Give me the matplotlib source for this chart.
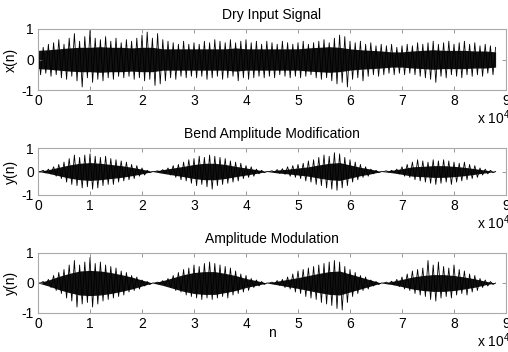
import numpy as np
import matplotlib
matplotlib.use("Agg")
import matplotlib.pyplot as plt

plt.rcParams['font.family'] = ['Liberation Sans', 'DejaVu Sans']
plt.rcParams['mathtext.fontset'] = 'custom'
plt.rcParams['mathtext.rm'] = 'Liberation Sans'

# sample positions (peaks read every 1000 samples, dense core every 2000)
n_peak = np.arange(0, 89000, 1000)
n_core = np.arange(0, 90000, 2000)

# --- Dry Input Signal ---
dry_upper = [0.45, 0.40, 0.50, 0.55, 0.65, 0.50, 0.70, 0.85, 0.60, 0.75,
             0.95, 0.70, 0.65, 0.75, 0.60, 0.70, 0.55, 0.65, 0.60, 0.70,
             0.80, 0.90, 0.70, 0.85, 0.65, 0.60, 0.55, 0.50, 0.60, 0.50,
             0.55, 0.50, 0.60, 0.55, 0.65, 0.60, 0.55, 0.65, 0.55, 0.60,
             0.65, 0.55, 0.60, 0.50, 0.60, 0.55, 0.50, 0.60, 0.55, 0.50,
             0.55, 0.60, 0.50, 0.55, 0.60, 0.65, 0.55, 0.70, 0.80, 0.75,
             0.60, 0.55, 0.60, 0.50, 0.55, 0.45, 0.50, 0.45, 0.50, 0.40,
             0.45, 0.50, 0.45, 0.55, 0.50, 0.55, 0.60, 0.50, 0.55, 0.60,
             0.50, 0.55, 0.60, 0.50, 0.55, 0.45, 0.50, 0.45, 0.40]
dry_lower = [-0.50, -0.45, -0.55, -0.50, -0.60, -0.65, -0.55, -0.70, -0.90, -0.60,
             -0.75, -0.65, -0.70, -0.60, -0.65, -0.55, -0.60, -0.55, -0.65, -0.60,
             -0.70, -0.65, -0.85, -0.80, -0.70, -0.60, -0.65, -0.55, -0.60, -0.55,
             -0.60, -0.55, -0.65, -0.60, -0.55, -0.65, -0.60, -0.55, -0.70, -0.60,
             -0.65, -0.60, -0.55, -0.60, -0.55, -0.60, -0.50, -0.55, -0.60, -0.55,
             -0.60, -0.55, -0.50, -0.60, -0.65, -0.60, -0.70, -0.80, -0.75, -0.90,
             -0.65, -0.60, -0.70, -0.55, -0.50, -0.55, -0.50, -0.45, -0.50, -0.45,
             -0.50, -0.45, -0.50, -0.55, -0.60, -0.65, -0.75, -0.55, -0.60, -0.50,
             -0.55, -0.60, -0.50, -0.55, -0.50, -0.55, -0.45, -0.50, -0.40]
dry_core = [0.30, 0.32, 0.35, 0.38, 0.40, 0.40, 0.42, 0.40, 0.40, 0.38, 0.40, 0.40,
            0.35, 0.35, 0.35, 0.35, 0.35, 0.35, 0.35, 0.38, 0.35, 0.35, 0.35,
            0.35, 0.35, 0.35, 0.38, 0.40, 0.42, 0.40, 0.35, 0.32, 0.30, 0.28,
            0.25, 0.25, 0.28, 0.30, 0.32, 0.30, 0.30, 0.30, 0.28, 0.28, 0.25]

# --- Bend Amplitude Modification ---
bend_upper = [0.00, 0.05, 0.10, 0.20, 0.30, 0.40, 0.55, 0.70, 0.60, 0.70, 0.75, 0.65,
              0.60, 0.65, 0.55, 0.50, 0.45, 0.40, 0.30, 0.25, 0.15, 0.05, 0.00,
              0.03, 0.08, 0.15, 0.25, 0.30, 0.40, 0.50, 0.55, 0.65, 0.60, 0.70,
              0.65, 0.60, 0.55, 0.45, 0.40, 0.35, 0.25, 0.20, 0.10, 0.05, 0.00,
              0.03, 0.08, 0.12, 0.20, 0.25, 0.30, 0.35, 0.45, 0.50, 0.60, 0.70,
              0.65, 0.80, 0.75, 0.60, 0.50, 0.40, 0.30, 0.20, 0.10, 0.05, 0.00,
              0.03, 0.05, 0.10, 0.20, 0.30, 0.40, 0.50, 0.45, 0.40, 0.50, 0.45,
              0.50, 0.45, 0.40, 0.35, 0.40, 0.30, 0.25, 0.15, 0.10, 0.05, 0.00]
bend_lower = [0.00, -0.05, -0.10, -0.20, -0.30, -0.45, -0.55, -0.60, -0.70, -0.65, -0.75, -0.70,
              -0.60, -0.55, -0.55, -0.45, -0.40, -0.35, -0.30, -0.20, -0.15, -0.05, 0.00,
              -0.03, -0.08, -0.15, -0.25, -0.35, -0.40, -0.50, -0.60, -0.55, -0.65, -0.75,
              -0.60, -0.55, -0.50, -0.45, -0.40, -0.30, -0.25, -0.20, -0.10, -0.05, 0.00,
              -0.03, -0.08, -0.12, -0.20, -0.25, -0.30, -0.40, -0.45, -0.55, -0.60, -0.70,
              -0.75, -0.80, -0.70, -0.60, -0.45, -0.35, -0.25, -0.20, -0.10, -0.05, 0.00,
              -0.03, -0.05, -0.10, -0.20, -0.25, -0.35, -0.40, -0.45, -0.50, -0.55, -0.50,
              -0.45, -0.55, -0.45, -0.40, -0.35, -0.30, -0.25, -0.15, -0.10, -0.05, 0.00]
bend_core = [0.00, 0.08, 0.18, 0.28, 0.35, 0.38, 0.35, 0.30, 0.25, 0.18, 0.10, 0.00,
             0.08, 0.15, 0.22, 0.30, 0.35, 0.35, 0.30, 0.22, 0.15, 0.08, 0.00,
             0.06, 0.10, 0.15, 0.20, 0.28, 0.35, 0.38, 0.28, 0.18, 0.10, 0.00,
             0.05, 0.12, 0.20, 0.22, 0.25, 0.25, 0.22, 0.18, 0.12, 0.06, 0.00]

# --- Amplitude Modulation ---
am_upper = [0.00, 0.05, 0.12, 0.25, 0.35, 0.45, 0.60, 0.75, 0.60, 0.70, 0.85, 0.65,
            0.70, 0.60, 0.55, 0.50, 0.40, 0.35, 0.25, 0.20, 0.10, 0.05, 0.00,
            0.03, 0.08, 0.15, 0.25, 0.35, 0.45, 0.50, 0.60, 0.55, 0.65, 0.70,
            0.65, 0.60, 0.55, 0.50, 0.40, 0.30, 0.25, 0.15, 0.10, 0.05, 0.00,
            0.03, 0.08, 0.12, 0.20, 0.30, 0.40, 0.45, 0.50, 0.55, 0.60, 0.65,
            0.70, 0.75, 0.70, 0.55, 0.45, 0.35, 0.25, 0.20, 0.10, 0.05, 0.00,
            0.03, 0.06, 0.12, 0.20, 0.30, 0.40, 0.45, 0.50, 0.75, 0.60, 0.70,
            0.55, 0.50, 0.60, 0.45, 0.40, 0.30, 0.25, 0.15, 0.10, 0.05, 0.00]
am_lower = [0.00, -0.05, -0.15, -0.25, -0.35, -0.50, -0.60, -0.80, -0.70, -0.65, -0.80, -0.70,
            -0.60, -0.55, -0.50, -0.45, -0.40, -0.30, -0.25, -0.20, -0.10, -0.05, 0.00,
            -0.03, -0.08, -0.15, -0.25, -0.30, -0.40, -0.45, -0.50, -0.55, -0.50, -0.55,
            -0.50, -0.45, -0.50, -0.40, -0.35, -0.30, -0.25, -0.15, -0.10, -0.05, 0.00,
            -0.03, -0.08, -0.15, -0.20, -0.30, -0.35, -0.45, -0.50, -0.55, -0.65, -0.70,
            -0.75, -0.85, -0.90, -0.65, -0.45, -0.35, -0.25, -0.20, -0.10, -0.05, 0.00,
            -0.03, -0.06, -0.12, -0.20, -0.25, -0.35, -0.40, -0.45, -0.55, -0.60, -0.50,
            -0.45, -0.50, -0.40, -0.35, -0.40, -0.30, -0.25, -0.15, -0.10, -0.05, 0.00]
am_core = [0.00, 0.10, 0.22, 0.32, 0.40, 0.42, 0.40, 0.35, 0.28, 0.20, 0.10, 0.00,
           0.08, 0.18, 0.28, 0.35, 0.38, 0.38, 0.32, 0.25, 0.15, 0.08, 0.00,
           0.06, 0.12, 0.18, 0.25, 0.32, 0.38, 0.40, 0.30, 0.20, 0.10, 0.00,
           0.05, 0.12, 0.20, 0.25, 0.28, 0.28, 0.25, 0.20, 0.14, 0.06, 0.00]

titles = ['Dry Input Signal', 'Bend Amplitude Modification', 'Amplitude Modulation']
ylabels = ['x(n)', 'y(n)', 'y(n)']
xtick_vals = [0, 10000, 20000, 30000, 40000, 50000, 60000, 70000, 80000, 90000]
xtick_labels = ['0', '1', '2', '3', '4', '5', '6', '7', '8', '9']

series = [(dry_upper, dry_lower, dry_core),
          (bend_upper, bend_lower, bend_core),
          (am_upper, am_lower, am_core)]

fig = plt.figure(figsize=(5.08, 3.52), dpi=100)
W, H = 508.0, 352.0
# (top, bottom) of each axes box in pixels
boxes = [(29, 90), (148, 195), (253, 313)]
left, right = 38, 506

for i, (top, bot) in enumerate(boxes):
    ax = fig.add_axes([left / W, 1 - bot / H, (right - left) / W, (bot - top) / H])
    up, lo, core = series[i]
    core = np.array(core)
    # dense part of the waveform
    ax.fill_between(n_core, -core, core, color='#111111', lw=0)
    # peaks: swing between the upper and lower reading, half a step apart
    zx = np.ravel(np.column_stack([n_peak, n_peak + 500]))[:-1]
    zy = np.ravel(np.column_stack([up, lo]))[:-1]
    ax.plot(zx, zy, color='black', lw=0.6)
    ax.set_xlim(0, 90000)
    ax.set_ylim(-1, 1)
    ax.set_xticks(xtick_vals)
    ax.set_xticklabels(xtick_labels)
    ax.set_yticks([-1, 0, 1])
    ax.set_yticklabels(['-1', '0', '1'])
    ax.tick_params(direction='in', length=3, width=0.6, color='#888888',
                   top=True, right=True, labelsize=10, pad=3)
    for sp in ax.spines.values():
        sp.set_color('#aaaaaa')
        sp.set_linewidth(0.8)
    ax.set_title(titles[i], fontsize=10, pad=7)
    ax.set_ylabel(ylabels[i], fontsize=10)
    ax.yaxis.set_label_coords(-0.043, 0.5)
    fig.text(477 / W, 1 - (bot + 28) / H, r'x 10$^4$', fontsize=10, va='center')

fig.text(272 / W, 1 - 333 / H, 'n', fontsize=10, ha='center', va='center')

fig.savefig('out.png', dpi=100)
